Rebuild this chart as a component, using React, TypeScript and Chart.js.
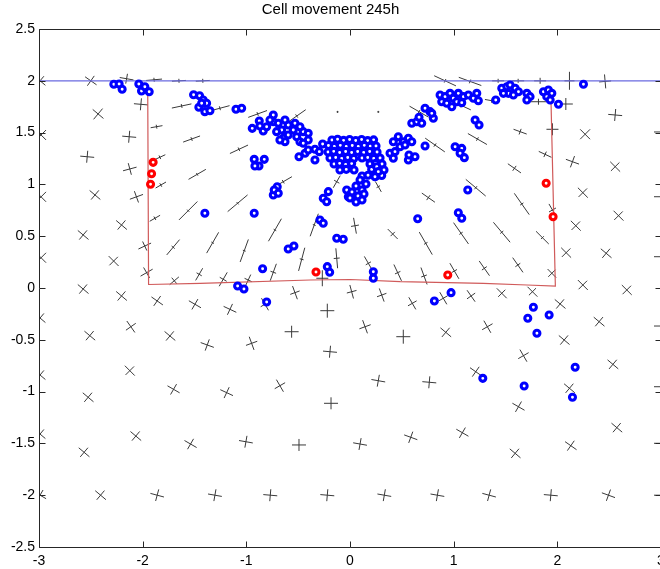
import React, { useEffect, useRef } from "react";
import { Chart, registerables } from "chart.js";
Chart.register(...registerables);

const titleText = "Cell movement 245h";
const xTicks = [-3, -2, -1, 0, 1, 2, 3];
const yTicks = [-2.5, -2, -1.5, -1, -0.5, 0, 0.5, 1, 1.5, 2, 2.5];

// free surface line
const surfaceX = [-3, 3];
const surfaceY = [2, 2];

// red boundary of the region
const boundaryX = [-1.951, -1.943, -1.446, -0.384, 0.002, 0.485, 1.286, 1.708, 1.981, 1.939];
const boundaryY = [1.863, 0.034, 0.045, 0.077, 0.082, 0.061, 0.045, 0.029, 0.019, 1.798];

// red marked cells
const redCells: [number, number][] = [
  [-1.899, 1.213], [-1.914, 1.103], [-1.924, 1.001], [-0.328, 0.154],
  [0.943, 0.125], [1.892, 1.011], [1.959, 0.688],
];

// blue cells
const blueCells: [number, number][] = [
  [-2.278, 1.966], [-2.227, 1.969], [-2.198, 1.918], [-2.037, 1.969], [-2.011, 1.902], [-1.979, 1.943], [-1.937, 1.895],
  [-1.509, 1.866], [-1.451, 1.856], [-1.416, 1.815], [-1.383, 1.783], [-1.458, 1.744], [-1.4, 1.702], [-1.351, 1.711], [-1.431, 1.783],
  [-1.1, 1.725], [-1.045, 1.735],
  [-0.943, 1.541], [-0.875, 1.612], [-0.837, 1.515], [-0.869, 1.564], [-0.804, 1.557], [-0.74, 1.67], [-0.74, 1.605],
  [-0.692, 1.59], [-0.659, 1.525], [-0.708, 1.509], [-0.644, 1.445], [-0.627, 1.412], [-0.596, 1.477], [-0.596, 1.573],
  [-0.531, 1.59], [-0.547, 1.525], [-0.514, 1.46], [-0.483, 1.412], [-0.451, 1.509], [-0.403, 1.493], [-0.403, 1.429],
  [-0.451, 1.397], [-0.676, 1.429], [-0.627, 1.622], [-0.772, 1.622], [-0.483, 1.557],
  [-0.492, 1.267], [-0.434, 1.3], [-0.403, 1.332], [-0.338, 1.339], [-0.296, 1.316], [-0.338, 1.236], [-0.264, 1.39],
  [-0.924, 1.242], [-0.878, 1.178], [-0.827, 1.242], [-0.917, 1.178],
  [-0.74, 0.898], [-0.702, 0.978], [-0.731, 0.946], [-0.692, 0.914],
  [-1.4, 0.721], [-0.924, 0.721], [-0.29, 0.656], [-0.258, 0.625], [-0.128, 0.48], [-0.065, 0.47],
  [-0.596, 0.376], [-0.541, 0.405], [-0.843, 0.186], [-0.219, 0.206], [-0.196, 0.152],
  [-1.084, 0.019], [-1.023, -0.01], [-0.804, -0.135],
  [-0.258, 0.866], [-0.209, 0.93], [-0.225, 0.833], [-0.032, 0.946], [-0.016, 0.881],
  [-0.174, 1.429], [-0.12, 1.436], [-0.062, 1.425], [-0.004, 1.433], [0.055, 1.424], [0.112, 1.434], [0.17, 1.423], [0.228, 1.43],
  [-0.208, 1.375], [-0.151, 1.366], [-0.093, 1.377], [-0.036, 1.367], [0.022, 1.376], [0.08, 1.366], [0.138, 1.377], [0.196, 1.368], [0.251, 1.371],
  [-0.212, 1.313], [-0.157, 1.319], [-0.1, 1.308], [-0.042, 1.318], [0.016, 1.308], [0.074, 1.318], [0.132, 1.309], [0.19, 1.317], [0.261, 1.313],
  [-0.193, 1.255], [-0.138, 1.26], [-0.08, 1.25], [-0.022, 1.259], [0.036, 1.25], [0.116, 1.255], [0.171, 1.26], [0.229, 1.25], [0.29, 1.255],
  [-0.154, 1.197], [-0.1, 1.203], [-0.042, 1.193], [0.016, 1.201], [0.193, 1.197], [0.248, 1.203], [0.309, 1.197],
  [-0.097, 1.139], [-0.036, 1.145], [0.039, 1.139], [0.209, 1.145], [0.27, 1.139], [0.328, 1.139],
  [0.116, 1.081], [0.174, 1.088], [0.251, 1.081], [0.306, 1.086],
  [0.097, 1.042], [0.154, 1.004], [0.058, 0.985], [0.116, 0.946], [0.019, 0.927], [0.077, 0.888], [0.135, 0.907], [0, 0.869], [0.058, 0.83], [0.116, 0.849],
  [0.258, 1.171], [0.273, 1.123], [0.241, 1.074],
  [0.418, 1.412], [0.466, 1.46], [0.514, 1.412], [0.563, 1.445], [0.596, 1.412], [0.483, 1.364], [0.531, 1.38],
  [0.386, 1.3], [0.418, 1.252], [0.434, 1.316], [0.563, 1.236], [0.627, 1.267], [0.569, 1.284], [0.724, 1.371],
  [0.596, 1.59], [0.644, 1.605], [0.666, 1.648], [0.692, 1.59],
  [0.724, 1.735], [0.772, 1.702], [0.804, 1.638], [0.789, 1.686],
  [1.014, 1.364], [1.078, 1.348], [1.062, 1.3], [1.103, 1.258], [1.207, 1.622], [1.245, 1.573],
  [1.136, 0.946], [0.653, 0.669], [1.045, 0.727], [1.078, 0.673], [0.225, 0.157], [0.225, 0.094],
  [0.869, 1.863], [0.917, 1.847], [0.965, 1.879], [0.997, 1.831], [1.045, 1.879], [1.094, 1.847], [1.142, 1.863], [1.19, 1.831],
  [1.223, 1.879], [1.238, 1.808], [0.885, 1.798], [0.933, 1.783], [0.982, 1.75], [1.03, 1.798], [1.078, 1.789],
  [1.406, 1.815],
  [1.464, 1.928], [1.513, 1.943], [1.544, 1.959], [1.593, 1.928], [1.625, 1.895], [1.528, 1.879], [1.576, 1.863], [1.48, 1.879],
  [1.706, 1.879], [1.737, 1.847], [1.706, 1.815],
  [1.866, 1.895], [1.914, 1.911], [1.947, 1.879], [1.898, 1.847], [1.931, 1.815], [2.011, 1.773], [2.252, 1.966],
  [0.814, -0.125], [0.975, -0.045], [1.769, -0.186], [1.715, -0.292], [1.921, -0.261], [1.803, -0.437],
  [2.172, -0.765], [1.281, -0.872], [1.68, -0.946], [2.146, -1.055],
];

// stress glyphs: [x, y, principal angle (deg), major stress, minor stress]
const glyphs: [number, number, number, number, number][] = [
  [-2.99, 2.0, 40, 7, 6], [-2.5, 2.0, 35, 7, 6], [-2.155, 2.02, 10, 7, 5], [-1.89, 2.01, -5, 8, 2],
  [-1.65, 2.0, -3, 7, 2], [-1.42, 2.0, -3, 7, 2], [0.917, 2.0, 25, 12, 2], [1.158, 1.994, 20, 12, 2],
  [1.429, 2.0, 0, 6, 2], [1.622, 2.0, 0, 6, 2], [1.834, 2.0, 0, 6, 3], [2.117, 2.0, 90, 9, 5], [2.461, 1.994, 85, 7, 6],
  [-2.43, 1.68, 40, 7, 7], [-2.017, 1.773, 5, 7, 6], [-1.624, 1.757, -12, 10, 2], [-1.255, 1.735, -15, 10, 2],
  [-0.891, 1.68, -20, 10, 2], [-0.514, 1.66, -35, 11, 2], [-0.12, 1.7, 0, 1, 1], [0.273, 1.7, 0, 1, 1],
  [0.666, 1.702, 30, 11, 2], [1.078, 1.76, 25, 10, 2], [1.368, 1.808, 10, 7, 2], [1.818, 1.798, 0, 8, 3],
  [2.082, 1.776, 0, 7, 6], [2.558, 1.67, 5, 7, 6],
  [-2.98, 1.477, 45, 7, 7], [-2.13, 1.46, 5, 7, 6], [-1.866, 1.557, -10, 6, 2], [-1.528, 1.438, -20, 9, 2],
  [-1.071, 1.339, -25, 10, 2], [0.82, 1.38, 35, 12, 2], [1.229, 1.438, 30, 11, 2], [1.641, 1.509, 20, 7, 3],
  [1.953, 1.532, 0, 6, 6], [2.268, 1.484, 45, 7, 7], [1.882, 1.29, 25, 7, 3], [2.146, 1.219, 20, 7, 6],
  [2.558, 1.171, 45, 7, 6], [1.586, 1.155, 35, 8, 3], [3.0, 1.506, 0, 7, 6], [3.0, 0.881, 0, 7, 6], [3.0, 0.302, 0, 7, 6],
  [-2.535, 1.267, 5, 7, 6], [-2.124, 1.149, -15, 7, 6], [-1.834, 1.262, -25, 6, 2], [-1.474, 1.097, -30, 10, 1.5],
  [-0.644, 1.026, -30, 10, 2], [-0.128, 1.026, -60, 7, 3], [-2.98, 0.88, 45, 7, 7], [-2.46, 0.898, 40, 7, 6],
  [-2.06, 0.88, -20, 7, 6], [-1.825, 0.994, -30, 6, 2], [-1.561, 0.746, -45, 13, 1.5], [-1.084, 0.818, -40, 13, 1.5],
  [0.273, 0.978, 60, 6, 2], [1.213, 0.968, 40, 13, 2], [0.756, 0.872, 35, 8, 3], [1.657, 0.811, 55, 13, 2],
  [1.953, 0.753, 60, 7, 4], [2.246, 0.92, 45, 7, 6], [2.59, 0.698, 45, 7, 6], [0.048, 0.601, 80, 8, 4],
  [0.412, 0.521, 45, 7, 3], [1.071, 0.528, 55, 13, 2], [1.464, 0.538, 50, 13, 2], [1.856, 0.486, 45, 9, 2],
  [2.178, 0.601, 45, 7, 6], [0.731, 0.431, 60, 13, 2], [2.085, 0.341, 45, 7, 6], [2.471, 0.335, 40, 7, 6],
  [-1.882, 0.673, -30, 6, 2], [-2.204, 0.608, 40, 7, 6], [-0.724, 0.56, -60, 13, 1.5], [-0.345, 0.608, -70, 12, 1.5],
  [-0.128, 0.287, 85, 10, 3], [-2.574, 0.512, 40, 7, 6], [-1.98, 0.405, -25, 7, 5], [-1.706, 0.393, -50, 10, 2],
  [-1.325, 0.437, -60, 12, 1.5], [-1.02, 0.36, -70, 12, 1.5], [-0.466, 0.277, -75, 12, 2], [-2.98, 0.292, 45, 7, 7],
  [-2.28, 0.26, 45, 7, 6], [-1.962, 0.148, -30, 7, 6], [-1.695, 0.07, -40, 6, 4], [-1.455, 0.132, -60, 7, 3],
  [-1.223, 0.084, -60, 8, 4], [-0.982, 0.077, -65, 6, 4], [-0.74, 0.152, -70, 9, 3], [-0.267, 0.094, 90, 8, 6],
  [0.177, 0.238, 60, 8, 3], [0.46, 0.148, 65, 9, 3], [0.714, 0.116, 70, 9, 3], [1.007, 0.164, 60, 9, 3],
  [1.296, 0.19, 55, 9, 3], [1.619, 0.222, 55, 9, 3], [1.947, 0.142, 45, 6, 5], [2.246, 0.029, 45, 7, 6], [2.67, -0.019, 45, 7, 6],
  [-2.574, -0.01, 40, 7, 6], [-2.204, -0.077, 40, 7, 6], [-1.86, -0.125, 35, 7, 6], [-1.496, -0.157, 30, 7, 6],
  [-1.158, -0.206, 25, 7, 6], [-0.82, -0.157, 60, 7, 5], [-0.531, -0.045, 70, 7, 5], [-0.219, -0.219, 0, 7, 7],
  [0.016, -0.036, 75, 7, 5], [0.306, -0.068, 70, 7, 5], [0.601, -0.148, 60, 7, 5], [0.9, -0.099, 60, 7, 5],
  [1.168, -0.077, 55, 7, 5], [1.464, -0.051, 45, 7, 5], [1.76, -0.036, 45, 7, 5], [2.027, -0.154, 40, 7, 6],
  [-2.99, -0.29, 40, 7, 6], [-2.51, -0.46, 40, 7, 6], [-2.114, -0.374, 55, 7, 6], [-1.737, -0.463, 40, 7, 6],
  [-1.377, -0.55, 20, 7, 6], [-0.949, -0.534, 70, 7, 6], [-0.563, -0.422, 0, 7, 6], [-0.193, -0.615, 5, 7, 6],
  [0.145, -0.374, 70, 7, 6], [0.514, -0.47, 0, 7, 7], [0.924, -0.428, 40, 7, 6], [1.325, -0.374, 60, 7, 6],
  [1.673, -0.653, 60, 7, 6], [2.066, -0.502, 40, 7, 6], [2.403, -0.325, 40, 7, 6], [3.0, -0.367, 0, 7, 6],
  [-2.99, -0.84, 40, 7, 6], [-2.124, -0.798, 45, 7, 6], [-2.526, -1.055, 40, 7, 6], [-1.702, -0.978, 30, 7, 6],
  [-1.19, -1.01, 25, 7, 6], [-0.676, -0.943, 60, 7, 6], [-0.183, -1.113, 0, 7, 6], [0.273, -0.895, 10, 7, 6],
  [0.765, -0.91, 5, 7, 6], [1.213, -0.808, 35, 7, 6], [1.625, -1.146, 30, 7, 6], [2.117, -0.968, 40, 7, 6],
  [2.536, -0.737, 40, 7, 6], [3.0, -0.953, 0, 7, 6],
  [-2.99, -1.41, 40, 7, 6], [-2.066, -1.429, 40, 7, 6], [-2.565, -1.586, 40, 7, 6], [-1.538, -1.506, 30, 7, 6],
  [-1.004, -1.484, 10, 7, 6], [-0.492, -1.515, 0, 7, 6], [0.097, -1.506, 10, 7, 6], [0.586, -1.441, 20, 7, 6],
  [1.084, -1.397, 30, 7, 6], [1.593, -1.596, 40, 7, 6], [2.13, -1.522, 35, 7, 6], [2.574, -1.348, 40, 7, 6], [3.0, -1.499, 0, 7, 6],
  [-2.99, -2.0, 30, 7, 6], [-2.406, -2.0, 40, 7, 6], [-1.86, -2.0, 15, 7, 6], [-1.303, -2.0, 10, 7, 6],
  [-0.769, -2.0, 5, 7, 6], [-0.219, -2.0, 5, 7, 6], [0.331, -2.0, 10, 7, 6], [0.843, -2.0, 10, 7, 6],
  [1.342, -2.0, 15, 7, 6], [1.937, -2.0, 5, 7, 6], [2.493, -2.0, 20, 7, 6], [3.0, -2.0, 0, 7, 6],
];

const GLYPH_SCALE = 1; // pixels per stress unit

const axesPlugin = {
  id: "matlabAxes",
  afterDatasetsDraw(chart: any) {
    const { ctx, chartArea: a, scales } = chart;
    const sx = scales.x;
    const sy = scales.y;
    ctx.save();
    ctx.strokeStyle = "#262626";
    ctx.lineWidth = 1;
    ctx.beginPath();
    const L = Math.round(a.left) + 0.5;
    const R = Math.round(a.right) + 0.5;
    const T = Math.round(a.top) + 0.5;
    const B = Math.round(a.bottom) + 0.5;
    ctx.rect(L, T, R - L, B - T);
    for (const v of xTicks) {
      const px = Math.round(sx.getPixelForValue(v)) + 0.5;
      ctx.moveTo(px, B);
      ctx.lineTo(px, B - 6);
      ctx.moveTo(px, T);
      ctx.lineTo(px, T + 6);
    }
    for (const v of yTicks) {
      const py = Math.round(sy.getPixelForValue(v)) + 0.5;
      ctx.moveTo(L, py);
      ctx.lineTo(L + 6, py);
      ctx.moveTo(R, py);
      ctx.lineTo(R - 6, py);
    }
    ctx.stroke();
    ctx.restore();
  },
};

export default function App() {
  const ref = useRef<HTMLCanvasElement | null>(null);
  useEffect(() => {
    if (!ref.current) return;
    const glyphPts = glyphs.map((g) => ({ x: g[0], y: g[1] }));
    const chart = new Chart(ref.current, {
      type: "scatter",
      data: {
        datasets: [
          {
            label: "red",
            data: redCells.map((p) => ({ x: p[0], y: p[1] })),
            pointStyle: "circle",
            pointRadius: 3,
            pointBorderWidth: 3.1,
            pointBorderColor: "#ff0000",
            pointBackgroundColor: "#ffffff",
            showLine: false,
          },
          {
            label: "blue",
            data: blueCells.map((p) => ({ x: p[0], y: p[1] })),
            pointStyle: "circle",
            pointRadius: 3,
            pointBorderWidth: 3.1,
            pointBorderColor: "#0000ff",
            pointBackgroundColor: "#ffffff",
            showLine: false,
          },
          {
            label: "boundary",
            data: boundaryX.map((x, i) => ({ x, y: boundaryY[i] })),
            showLine: true,
            borderColor: "#d05a5a",
            borderWidth: 1.2,
            pointRadius: 0,
            fill: false,
          },
          {
            label: "surface",
            data: surfaceX.map((x, i) => ({ x, y: surfaceY[i] })),
            showLine: true,
            borderColor: "#6a6ae0",
            borderWidth: 1.2,
            pointRadius: 0,
            fill: false,
          },
          {
            label: "minor",
            data: glyphPts,
            showLine: false,
            pointStyle: "line",
            pointRadius: glyphs.map((g) => g[4] * GLYPH_SCALE),
            pointRotation: glyphs.map((g) => g[2] + 90),
            pointBorderColor: "#3a3a3a",
            pointBorderWidth: 1,
            clip: 0,
          },
          {
            label: "major",
            data: glyphPts,
            showLine: false,
            pointStyle: "line",
            pointRadius: glyphs.map((g) => g[3] * GLYPH_SCALE),
            pointRotation: glyphs.map((g) => g[2]),
            pointBorderColor: "#3a3a3a",
            pointBorderWidth: 1,
            clip: 0,
          },
        ] as any,
      },
      options: {
        animation: false,
        responsive: false,
        events: [],
        layout: { padding: { left: 0, right: 39, top: 0, bottom: 0 } },
        plugins: {
          legend: { display: false },
          tooltip: { enabled: false },
          title: {
            display: true,
            text: titleText,
            color: "#000",
            font: { family: "'Liberation Sans', Arial, sans-serif", size: 15, weight: "normal" },
            padding: { top: 1, bottom: 10 },
          },
        },
        scales: {
          x: {
            type: "linear",
            min: -3,
            max: 3,
            border: { display: false },
            grid: { display: false, drawTicks: false },
            afterBuildTicks: (s: any) => { s.ticks = xTicks.map((v) => ({ value: v })); },
            afterFit: (s: any) => { s.height = 22; },
            ticks: {
              color: "#000",
              padding: 6,
              maxRotation: 0,
              autoSkip: false,
              font: { family: "'Liberation Sans', Arial, sans-serif", size: 14 },
              callback: (v: any) => String(v),
            },
          },
          y: {
            type: "linear",
            min: -2.5,
            max: 2.5,
            border: { display: false },
            grid: { display: false, drawTicks: false },
            afterBuildTicks: (s: any) => { s.ticks = yTicks.map((v) => ({ value: v })); },
            afterFit: (s: any) => { s.width = 39; },
            ticks: {
              color: "#000",
              padding: 4,
              autoSkip: false,
              font: { family: "'Liberation Sans', Arial, sans-serif", size: 14 },
              callback: (v: any) => String(v),
            },
          },
        },
      },
      plugins: [axesPlugin],
    });
    return () => chart.destroy();
  }, []);
  return (
    <div style={{ position: "absolute", left: 0, top: 0, width: 700, height: 569, background: "#fff" }}>
      <canvas ref={ref} width={700} height={569} style={{ display: "block" }} />
    </div>
  );
}
